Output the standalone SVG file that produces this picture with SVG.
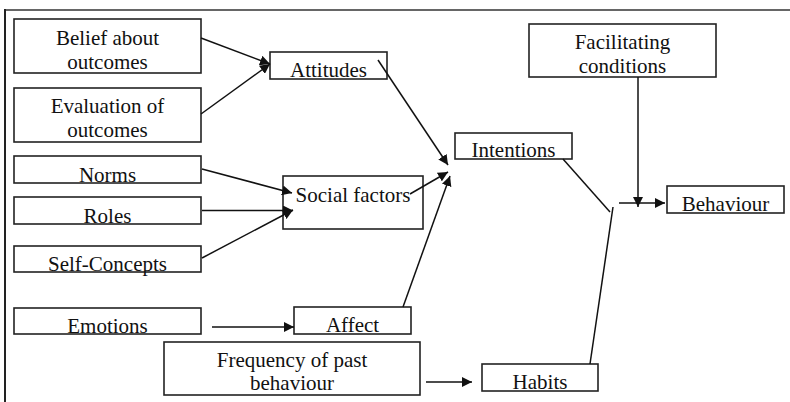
<svg xmlns="http://www.w3.org/2000/svg" width="790" height="402" viewBox="0 0 790 402">
<style>
.box{fill:#fff;stroke:#222;stroke-width:1.6}
.t{font-size:21px;fill:#111;text-anchor:middle}
.c{stroke:#111;stroke-width:1.5;fill:none;marker-end:url(#ah)}
.n{stroke:#111;stroke-width:1.5;fill:none}
</style>
<defs>
<marker id="ah" viewBox="0 0 10 10" refX="10" refY="5" markerWidth="10" markerHeight="10" markerUnits="userSpaceOnUse" orient="auto">
<path d="M0,0 L10,5 L0,10 z" fill="#111"/>
</marker>
</defs>
<rect width="790" height="402" fill="#fff"/>
<g id="frame">
<line x1="5" y1="10" x2="790" y2="10" stroke="#666" stroke-width="2"/>
<line x1="5" y1="9" x2="5" y2="402" stroke="#222" stroke-width="2"/>
</g>
<g font-family="Liberation Serif, DejaVu Serif, serif">
<g id="belief"><rect class="box" x="14" y="19" width="187" height="54"/><text class="t" x="107.5" y="45">Belief about</text><text class="t" x="107.5" y="69">outcomes</text></g>
<g id="evaluation"><rect class="box" x="14" y="88" width="187" height="54"/><text class="t" x="107.5" y="113">Evaluation of</text><text class="t" x="107.5" y="137">outcomes</text></g>
<g id="attitudes"><rect class="box" x="270" y="52" width="117" height="27"/><text class="t" x="328.5" y="77">Attitudes</text></g>
<g id="norms"><rect class="box" x="14" y="156" width="187" height="27"/><text class="t" x="107.5" y="182">Norms</text></g>
<g id="roles"><rect class="box" x="14" y="197" width="187" height="27"/><text class="t" x="107.5" y="223">Roles</text></g>
<g id="selfconcepts"><rect class="box" x="14" y="246" width="187" height="26"/><text class="t" x="107.5" y="271">Self-Concepts</text></g>
<g id="social"><rect class="box" x="283" y="176" width="140" height="53"/><text class="t" x="353" y="202">Social factors</text></g>
<g id="emotions"><rect class="box" x="14" y="308" width="187" height="26"/><text class="t" x="107.5" y="333">Emotions</text></g>
<g id="affect"><rect class="box" x="294" y="307" width="117" height="27"/><text class="t" x="352.5" y="332">Affect</text></g>
<g id="frequency"><rect class="box" x="164" y="342" width="256" height="53"/><text class="t" x="292" y="367">Frequency of past</text><text class="t" x="292" y="390">behaviour</text></g>
<g id="habits"><rect class="box" x="482" y="364" width="116" height="27"/><text class="t" x="540" y="389">Habits</text></g>
<g id="intentions"><rect class="box" x="455" y="133" width="117" height="26"/><text class="t" x="513.5" y="157">Intentions</text></g>
<g id="facilitating"><rect class="box" x="529" y="24" width="187" height="53"/><text class="t" x="622.5" y="49">Facilitating</text><text class="t" x="622.5" y="73">conditions</text></g>
<g id="behaviour"><rect class="box" x="667" y="186" width="117" height="27"/><text class="t" x="725.5" y="211">Behaviour</text></g>
</g>
<g id="connectors">
<line class="c" x1="201" y1="38" x2="270" y2="64"/>
<line class="c" x1="201" y1="114" x2="270" y2="64"/>
<line class="c" x1="378" y1="60" x2="448" y2="165"/>
<line class="c" x1="202" y1="169" x2="292" y2="193"/>
<line class="c" x1="202" y1="210.5" x2="293" y2="210.5"/>
<line class="c" x1="202" y1="258" x2="293" y2="210"/>
<line class="c" x1="410" y1="194" x2="448" y2="172"/>
<line class="c" x1="403" y1="307" x2="450" y2="176"/>
<line class="c" x1="212" y1="327" x2="294" y2="327"/>
<line class="c" x1="426" y1="382" x2="472" y2="382"/>
<line class="n" x1="563" y1="159" x2="610" y2="212"/>
<line class="n" x1="590" y1="364" x2="613" y2="207"/>
<line class="c" x1="638" y1="77" x2="638" y2="207"/>
<line class="c" x1="619" y1="203" x2="665" y2="203"/>
</g>
</svg>
